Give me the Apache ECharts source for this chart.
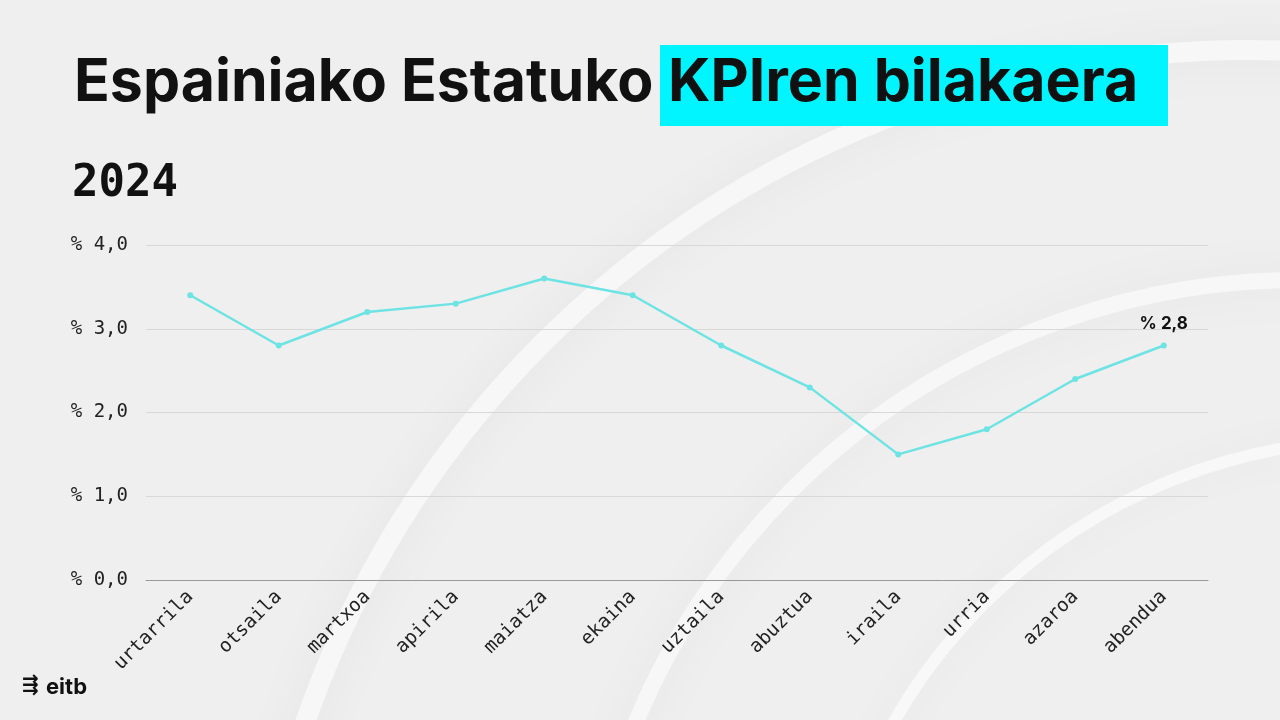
<!DOCTYPE html><html><head><meta charset="utf-8">
<script src="https://cdn.jsdelivr.net/npm/echarts@6/dist/echarts.min.js"></script>
<style>html,body{margin:0;padding:0}#c{width:1280px;height:720px}</style></head><body>
<div id="c"></div><script>
const categories=['urtarrila','otsaila','martxoa','apirila','maiatza','ekaina','uztaila','abuztua','iraila','urria','azaroa','abendua'];
const values=[3.4,2.8,3.2,3.3,3.6,3.4,2.8,2.3,1.5,1.8,2.4,2.8];
const chart=echarts.init(document.getElementById('c'));
chart.setOption({
 backgroundColor:'#efefef',
 graphic:[
  {type:'circle',silent:true,z:-10,shape:{cx:1250,cy:1050,r:1000},style:{fill:'none',stroke:'#f7f7f7',lineWidth:20,shadowBlur:50,shadowColor:'rgba(0,0,0,0.06)'}},
  {type:'circle',silent:true,z:-10,shape:{cx:1300,cy:1000,r:720},style:{fill:'none',stroke:'#f7f7f7',lineWidth:16,shadowBlur:50,shadowColor:'rgba(0,0,0,0.06)'}},
  {type:'circle',silent:true,z:-10,shape:{cx:1380,cy:1000,r:560},style:{fill:'none',stroke:'#f8f8f8',lineWidth:12,shadowBlur:40,shadowColor:'rgba(0,0,0,0.05)'}},
  {type:'rect',shape:{x:660,y:45,width:508,height:81},style:{fill:'#00f5ff'}},
  {type:'text',left:74,top:54,style:{text:'Espainiako Estatuko',fontFamily:'Inter',fontWeight:'bold',fontSize:59,fill:'#111'}},
  {type:'text',left:668,top:54,style:{text:'KPIren bilakaera',fontFamily:'Inter',fontWeight:'bold',fontSize:59,fill:'#111'}},
  {type:'text',left:72,top:163,style:{text:'2024',fontFamily:'DejaVu Sans Mono',fontWeight:'bold',fontSize:44,fill:'#111'}},
  {type:'text',left:22,top:676,style:{text:'⇶',fontFamily:'DejaVu Sans',fontWeight:'bold',fontSize:20,fill:'#111'}},
  {type:'text',left:46,top:676,style:{text:'eitb',fontFamily:'Inter',fontWeight:'bold',fontSize:22,fill:'#111'}}
 ],
 grid:{left:146,right:72,top:245,bottom:140},
 xAxis:{type:'category',data:categories,boundaryGap:true,
  axisLine:{lineStyle:{color:'#999'}},axisTick:{show:false},
  axisLabel:{rotate:45,color:'#222',fontSize:19,fontFamily:'DejaVu Sans Mono',margin:14}},
 yAxis:{type:'value',min:0,max:4,interval:1,
  axisLabel:{formatter:v=>'% '+v.toFixed(1).replace('.',','),color:'#222',fontSize:19,fontFamily:'DejaVu Sans Mono',margin:18},
  splitLine:{lineStyle:{color:'#d8d8d8'}}},
 series:[{type:'line',data:values,smooth:false,symbol:'circle',symbolSize:6,
  lineStyle:{color:'#6ee3e3',width:2.5},itemStyle:{color:'#6ee3e3'},
  label:{show:true,position:'top',distance:10,fontFamily:'Inter',fontWeight:'bold',fontSize:17,color:'#111',
   formatter:p=>p.dataIndex===values.length-1?'% '+String(p.value).replace('.',','):''}}]
});
</script></body></html>
